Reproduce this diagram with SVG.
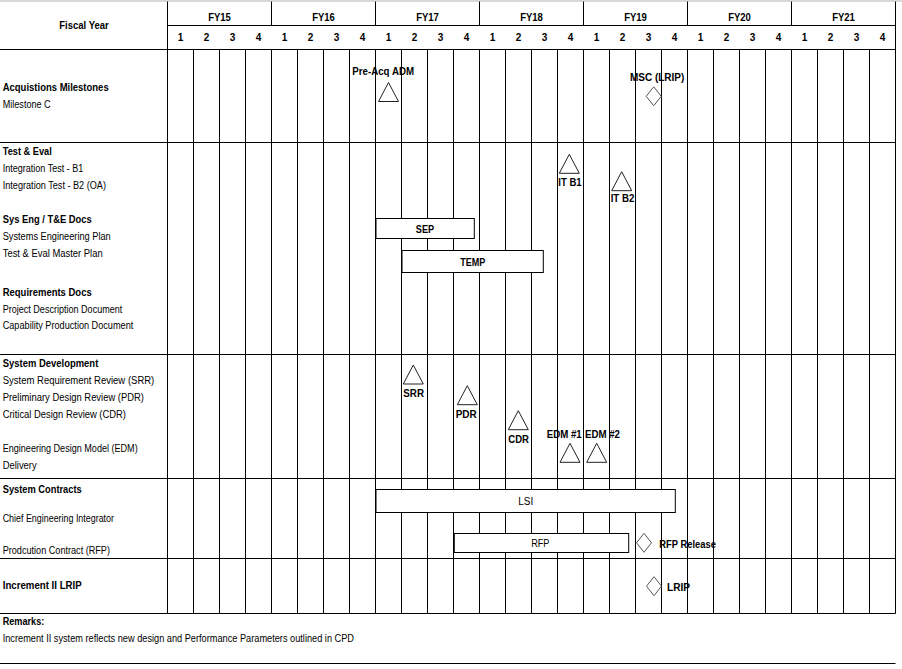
<svg xmlns="http://www.w3.org/2000/svg" xmlns:xlink="http://www.w3.org/1999/xlink" width="902" height="669" viewBox="0 0 902 669">
<style>
text{font-family:"Liberation Sans",Arial,sans-serif;fill:#000}
.b{font-weight:bold;font-size:10.5px}
.h{font-weight:bold;font-size:11px}
.q{font-weight:bold;font-size:10px;text-anchor:middle}
.r{font-size:10px}
.m{text-anchor:middle}
.g{stroke:#000;stroke-width:1;fill:none}
.bar{fill:#fff;stroke:#000;stroke-width:1}
.tri{fill:none;stroke:#222;stroke-width:1}
.dia{fill:none;stroke:#555;stroke-width:1}
</style>
<defs>
<path id="tri" class="tri" d="M0,0 L10,19 L-10,19 Z"/>
<path id="dia" class="dia" d="M0,-9.5 L7.5,0 L0,9.5 L-7.5,0 Z"/>
</defs>
<rect width="902" height="669" fill="#fff"/>
<g id="grid" class="g">
<line x1="0" y1="1" x2="902" y2="1" stroke="#b0b0b0"/>
<path d="M167.5,1.5V613.5 M895.5,1.5V613.5 M167.5,25.5H895.5 M271.5,1.5V25.5 M375.5,1.5V25.5 M479.5,1.5V25.5 M583.5,1.5V25.5 M687.5,1.5V25.5 M791.5,1.5V25.5"/>
<path d="M0,49.5H895.5 M0,142.5H895.5 M0,354.5H895.5 M0,478.5H895.5 M0,558.5H895.5 M0,613.5H895.5 M0,663.5H895.5"/>
<path d="M193.5,49.5V613.5 M219.5,49.5V613.5 M245.5,49.5V613.5 M271.5,49.5V613.5 M297.5,49.5V613.5 M323.5,49.5V613.5 M349.5,49.5V613.5 M375.5,49.5V613.5 M401.5,49.5V613.5 M427.5,49.5V613.5 M453.5,49.5V613.5 M479.5,49.5V613.5 M505.5,49.5V613.5 M531.5,49.5V613.5 M557.5,49.5V613.5 M583.5,49.5V613.5 M609.5,49.5V613.5 M635.5,49.5V613.5 M661.5,49.5V613.5 M687.5,49.5V613.5 M713.5,49.5V613.5 M739.5,49.5V613.5 M765.5,49.5V613.5 M791.5,49.5V613.5 M817.5,49.5V613.5 M843.5,49.5V613.5 M869.5,49.5V613.5"/>
</g>
<g id="header">
<text class="h" x="59.3" y="29" textLength="49.4" lengthAdjust="spacingAndGlyphs">Fiscal Year</text>
<text class="h m" x="219.5" y="21" textLength="22.7" lengthAdjust="spacingAndGlyphs">FY15</text>
<text class="h m" x="323.5" y="21" textLength="22.7" lengthAdjust="spacingAndGlyphs">FY16</text>
<text class="h m" x="427.5" y="21" textLength="22.7" lengthAdjust="spacingAndGlyphs">FY17</text>
<text class="h m" x="531.5" y="21" textLength="22.7" lengthAdjust="spacingAndGlyphs">FY18</text>
<text class="h m" x="635.5" y="21" textLength="22.7" lengthAdjust="spacingAndGlyphs">FY19</text>
<text class="h m" x="739.5" y="21" textLength="22.7" lengthAdjust="spacingAndGlyphs">FY20</text>
<text class="h m" x="843.5" y="21" textLength="22.7" lengthAdjust="spacingAndGlyphs">FY21</text>
<text class="q" x="180.5" y="40.7">1</text><text class="q" x="206.5" y="40.7">2</text><text class="q" x="232.5" y="40.7">3</text><text class="q" x="258.5" y="40.7">4</text>
<text class="q" x="284.5" y="40.7">1</text><text class="q" x="310.5" y="40.7">2</text><text class="q" x="336.5" y="40.7">3</text><text class="q" x="362.5" y="40.7">4</text>
<text class="q" x="388.5" y="40.7">1</text><text class="q" x="414.5" y="40.7">2</text><text class="q" x="440.5" y="40.7">3</text><text class="q" x="466.5" y="40.7">4</text>
<text class="q" x="492.5" y="40.7">1</text><text class="q" x="518.5" y="40.7">2</text><text class="q" x="544.5" y="40.7">3</text><text class="q" x="570.5" y="40.7">4</text>
<text class="q" x="596.5" y="40.7">1</text><text class="q" x="622.5" y="40.7">2</text><text class="q" x="648.5" y="40.7">3</text><text class="q" x="674.5" y="40.7">4</text>
<text class="q" x="700.5" y="40.7">1</text><text class="q" x="726.5" y="40.7">2</text><text class="q" x="752.5" y="40.7">3</text><text class="q" x="778.5" y="40.7">4</text>
<text class="q" x="804.5" y="40.7">1</text><text class="q" x="830.5" y="40.7">2</text><text class="q" x="856.5" y="40.7">3</text><text class="q" x="882.5" y="40.7">4</text>
</g>
<g id="labels">
<text class="b" x="2.7" y="90.7" textLength="106" lengthAdjust="spacingAndGlyphs">Acquistions Milestones</text>
<text class="r" x="2.7" y="107.7" textLength="48" lengthAdjust="spacingAndGlyphs">Milestone C</text>
<text class="b" x="2.7" y="155" textLength="49" lengthAdjust="spacingAndGlyphs">Test &amp; Eval</text>
<text class="r" x="2.7" y="171.7" textLength="80.6" lengthAdjust="spacingAndGlyphs">Integration Test - B1</text>
<text class="r" x="2.7" y="188.7" textLength="103.3" lengthAdjust="spacingAndGlyphs">Integration Test - B2 (OA)</text>
<text class="b" x="2.7" y="222.7" textLength="89" lengthAdjust="spacingAndGlyphs">Sys Eng / T&amp;E Docs</text>
<text class="r" x="2.7" y="239.7" textLength="108" lengthAdjust="spacingAndGlyphs">Systems Engineering Plan</text>
<text class="r" x="2.7" y="256.7" textLength="100" lengthAdjust="spacingAndGlyphs">Test &amp; Eval Master Plan</text>
<text class="b" x="2.7" y="295.7" textLength="89" lengthAdjust="spacingAndGlyphs">Requirements Docs</text>
<text class="r" x="2.7" y="312.7" textLength="119.6" lengthAdjust="spacingAndGlyphs">Project Description Document</text>
<text class="r" x="2.7" y="329.3" textLength="130.6" lengthAdjust="spacingAndGlyphs">Capability Production Document</text>
<text class="b" x="2.7" y="367" textLength="95.6" lengthAdjust="spacingAndGlyphs">System Development</text>
<text class="r" x="2.7" y="383.7" textLength="151.6" lengthAdjust="spacingAndGlyphs">System Requirement Review (SRR)</text>
<text class="r" x="2.7" y="401" textLength="141.3" lengthAdjust="spacingAndGlyphs">Preliminary Design Review (PDR)</text>
<text class="r" x="2.7" y="417.7" textLength="123.3" lengthAdjust="spacingAndGlyphs">Critical Design Review (CDR)</text>
<text class="r" x="2.7" y="451.7" textLength="135" lengthAdjust="spacingAndGlyphs">Engineering Design Model (EDM)</text>
<text class="r" x="2.7" y="468.7" textLength="34" lengthAdjust="spacingAndGlyphs">Delivery</text>
<text class="b" x="2.7" y="493.3" textLength="79" lengthAdjust="spacingAndGlyphs">System Contracts</text>
<text class="r" x="2.7" y="521.7" textLength="111.3" lengthAdjust="spacingAndGlyphs">Chief Engineering Integrator</text>
<text class="r" x="2.7" y="553.7" textLength="107.3" lengthAdjust="spacingAndGlyphs">Prodcution Contract (RFP)</text>
<text class="b" x="2.7" y="588.7" textLength="79" lengthAdjust="spacingAndGlyphs">Increment II LRIP</text>
<text class="b" x="2.7" y="625" textLength="41.6" lengthAdjust="spacingAndGlyphs">Remarks:</text>
<text class="r" x="2.7" y="641.7" textLength="351.3" lengthAdjust="spacingAndGlyphs">Increment II system reflects new design and Performance Parameters outlined in CPD</text>
</g>
<g id="connectors"></g>
<g id="pre-acq-adm"><use href="#tri" xlink:href="#tri" x="388.5" y="82.5"/><text class="b" x="352.3" y="75.3" textLength="61.7" lengthAdjust="spacingAndGlyphs">Pre-Acq ADM</text></g>
<g id="msc-lrip"><use href="#dia" xlink:href="#dia" x="653.7" y="96.3"/><text class="b" x="630" y="81" textLength="54.3" lengthAdjust="spacingAndGlyphs">MSC (LRIP)</text></g>
<g id="it-b1"><use href="#tri" xlink:href="#tri" x="569.3" y="154.3"/><text class="b" x="558.3" y="186" textLength="23.4" lengthAdjust="spacingAndGlyphs">IT B1</text></g>
<g id="it-b2"><use href="#tri" xlink:href="#tri" x="621.7" y="171.7"/><text class="b" x="610.7" y="201.7" textLength="23.6" lengthAdjust="spacingAndGlyphs">IT B2</text></g>
<g id="sep"><rect class="bar" x="376" y="218.5" width="98.3" height="20"/><text class="b m" x="425" y="232.7" textLength="18.3" lengthAdjust="spacingAndGlyphs">SEP</text></g>
<g id="temp"><rect class="bar" x="402" y="250.5" width="141.3" height="22"/><text class="b m" x="472.7" y="266" textLength="25" lengthAdjust="spacingAndGlyphs">TEMP</text></g>
<g id="srr"><use href="#tri" xlink:href="#tri" x="413.3" y="365"/><text class="b" x="403.3" y="397.3" textLength="20.7" lengthAdjust="spacingAndGlyphs">SRR</text></g>
<g id="pdr"><use href="#tri" xlink:href="#tri" x="467.3" y="385.7"/><text class="b" x="455.7" y="418.3" textLength="21" lengthAdjust="spacingAndGlyphs">PDR</text></g>
<g id="cdr"><use href="#tri" xlink:href="#tri" x="518.3" y="410.7"/><text class="b" x="508.3" y="443.3" textLength="20.7" lengthAdjust="spacingAndGlyphs">CDR</text></g>
<g id="edm1"><use href="#tri" xlink:href="#tri" x="570" y="443.3"/><text class="b" x="546.7" y="438.3" textLength="35" lengthAdjust="spacingAndGlyphs">EDM #1</text></g>
<g id="edm2"><use href="#tri" xlink:href="#tri" x="596.7" y="443.3"/><text class="b" x="585" y="438.3" textLength="35" lengthAdjust="spacingAndGlyphs">EDM #2</text></g>
<g id="lsi"><rect class="bar" x="376" y="489.5" width="299.3" height="23"/><text class="r m" x="525.7" y="505.3" textLength="15" lengthAdjust="spacingAndGlyphs">LSI</text></g>
<g id="rfp"><rect class="bar" x="454.3" y="533.5" width="174.4" height="19"/><text class="r m" x="540.3" y="547.3" textLength="18.3" lengthAdjust="spacingAndGlyphs">RFP</text></g>
<g id="rfp-release"><use href="#dia" xlink:href="#dia" x="644" y="542.8"/><text class="b" x="659.3" y="547.7" textLength="56.7" lengthAdjust="spacingAndGlyphs">RFP Release</text></g>
<g id="lrip"><use href="#dia" xlink:href="#dia" x="654" y="586.2"/><text class="b" x="667" y="591" textLength="23" lengthAdjust="spacingAndGlyphs">LRIP</text></g>
</svg>
